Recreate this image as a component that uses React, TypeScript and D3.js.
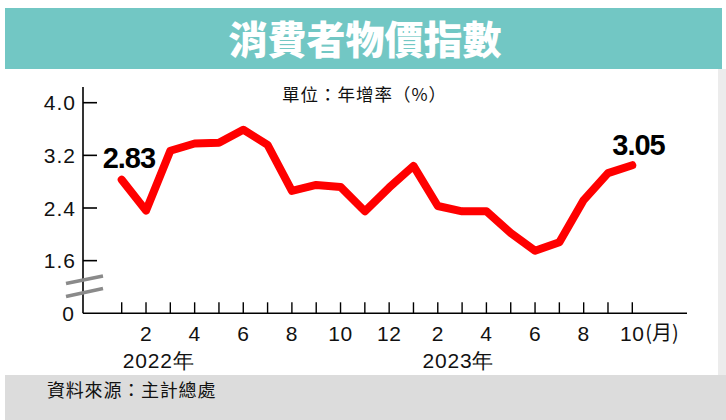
import React from 'react';
import * as d3 from 'd3';

const monthLabels = ['1','2','3','4','5','6','7','8','9','10','11','12','1','2','3','4','5','6','7','8','9','10'];
const cpi = [2.83, 2.36, 3.27, 3.38, 3.39, 3.59, 3.36, 2.66, 2.75, 2.72, 2.35, 2.71, 3.04, 2.43, 2.35, 2.35, 2.02, 1.75, 1.88, 2.52, 2.93, 3.05];
const yTicks = [0, 1.6, 2.4, 3.2, 4.0];
const yearLabels = ['2022年', '2023年'];
const yearStartIdx = [0, 12];
const title = '消費者物價指數';
const unitText = '單位：年增率（%）';
const sourceText = '資料來源：主計總處';

const W = 726, H = 420;
const CJK = '"Noto Sans CJK TC", "Noto Sans CJK SC", sans-serif';
const LAT = '"Liberation Sans", Arial, sans-serif';

export default function App() {
  const x = d3.scaleLinear().domain([0, cpi.length - 1]).range([121.7, 632.3]);
  const y = d3.scaleLinear().domain([0.8, 4.0]).range([313.3, 102.7]);
  const yPos = (v: number) => y(v === 0 ? 0.8 : v);
  const line = d3.line<number>().x((_, i) => x(i)).y(d => y(d));
  const axisX = 83;
  const axisY = y(0.8);
  const first = 0, last = cpi.length - 1;

  return (
    <svg width={W} height={H} style={{ position: 'absolute', left: 0, top: 0, background: '#fff' }}>
      <rect x={0} y={0} width={W} height={H} fill="#fff" />
      {/* banner */}
      <rect x={5} y={8} width={717} height={61} fill="#72c7c4" />
      <text x={365} y={54} textAnchor="middle" fill="#fff" fontFamily={CJK} fontWeight={900} fontSize={39}>{title}</text>
      {/* right side stripe */}
      <rect x={718} y={69} width={8} height={306} fill="#ececec" />
      {/* footer */}
      <rect x={5} y={375} width={721} height={45} fill="#dcdcdc" />
      <text x={47} y={397} fill="#111" fontFamily={CJK} fontSize={18} letterSpacing={0.8}>{sourceText}</text>

      {/* unit */}
      <text x={282} y={101} fill="#111" fontFamily={CJK} fontSize={17.5} letterSpacing={1}>{unitText}</text>

      {/* y axis */}
      <line x1={axisX} x2={axisX} y1={87} y2={axisY} stroke="#000" strokeWidth={1.6} />
      {yTicks.map(t => (
        <g key={t}>
          {t !== 0 && <line x1={axisX} x2={axisX + 14} y1={yPos(t)} y2={yPos(t)} stroke="#000" strokeWidth={1.6} />}
          <text x={t === 0 ? 75 : 76} y={yPos(t) + 7.5} textAnchor="end" fontFamily={LAT} fontSize={21} letterSpacing={1} fill="#111">
            {t === 0 ? '0' : t.toFixed(1)}
          </text>
        </g>
      ))}
      {/* axis break marks */}
      <line x1={66} y1={283.5} x2={103} y2={276} stroke="#8a8a8a" strokeWidth={3.5} />
      <line x1={66} y1={296.5} x2={103} y2={288.5} stroke="#8a8a8a" strokeWidth={3.5} />

      {/* x axis */}
      <line x1={axisX} x2={687} y1={axisY} y2={axisY} stroke="#000" strokeWidth={1.6} />
      {monthLabels.map((m, i) => (
        <g key={i}>
          <line x1={x(i)} x2={x(i)} y1={axisY} y2={axisY - 11} stroke="#000" strokeWidth={1.4} />
          {(+m) % 2 === 0 && (
            <text x={x(i)} y={341} textAnchor="middle" fontFamily={LAT} fontSize={21} letterSpacing={0.5} fill="#111">{m}</text>
          )}
        </g>
      ))}
      <text x={x(last) + 13} y={340} fontFamily={CJK} fontSize={20} fill="#111">(月)</text>
      {yearLabels.map((yl, k) => (
        <text key={yl} x={x(yearStartIdx[k]) + (k === 0 ? 1 : 9)} y={368} fontFamily={LAT} fontSize={21} letterSpacing={0.8} fill="#111">{yl}</text>
      ))}

      {/* data line */}
      <path d={line(cpi) || ''} fill="none" stroke="#ff0000" strokeWidth={8} strokeLinejoin="round" strokeLinecap="round" />

      {/* value labels */}
      <text x={x(first) - 19} y={168} fontFamily={LAT} fontWeight={700} fontSize={29} letterSpacing={-1} fill="#000">{cpi[first].toFixed(2)}</text>
      <text x={x(last) - 20} y={155} fontFamily={LAT} fontWeight={700} fontSize={29} letterSpacing={-1} fill="#000">{cpi[last].toFixed(2)}</text>
    </svg>
  );
}
